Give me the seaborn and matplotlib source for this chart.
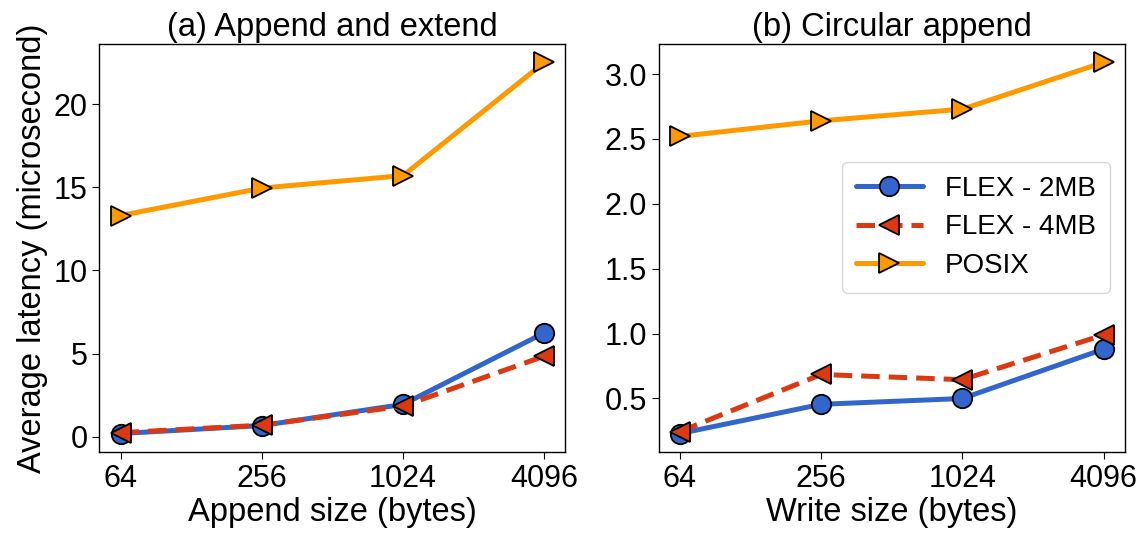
import pandas as pd
import matplotlib
matplotlib.use("Agg")
import matplotlib.pyplot as plt
import seaborn as sns

# data
sizes = ["64", "256", "1024", "4096"]
series = ["FLEX - 2MB", "FLEX - 4MB", "POSIX"]

append_flex2 = [0.2, 0.68, 1.95, 6.25]
append_flex4 = [0.25, 0.7, 1.85, 4.85]
append_posix = [13.3, 14.95, 15.7, 22.5]

circ_flex2 = [0.23, 0.455, 0.50, 0.88]
circ_flex4 = [0.245, 0.685, 0.645, 0.99]
circ_posix = [2.52, 2.64, 2.73, 3.09]

colors = {"FLEX - 2MB": "#3366CC", "FLEX - 4MB": "#DC3912", "POSIX": "#FF9900"}
markers = {"FLEX - 2MB": "o", "FLEX - 4MB": "<", "POSIX": ">"}
dashes = {"FLEX - 2MB": "", "FLEX - 4MB": (3.7, 1.8), "POSIX": ""}

sns.set_style("ticks")
plt.rcParams["font.family"] = ["Liberation Sans", "DejaVu Sans"]
plt.rcParams["font.size"] = 22
for key in ["text.color", "axes.labelcolor", "xtick.color", "ytick.color", "axes.edgecolor"]:
    plt.rcParams[key] = "black"


def make_df(v2, v4, vp):
    rows = []
    for name, vals in zip(series, [v2, v4, vp]):
        for s, v in zip(sizes, vals):
            rows.append({"size": s, "latency": v, "series": name})
    return pd.DataFrame(rows)


df_a = make_df(append_flex2, append_flex4, append_posix)
df_b = make_df(circ_flex2, circ_flex4, circ_posix)

fig, axes = plt.subplots(1, 2, figsize=(11.43, 5.35), dpi=100)

for ax, df in zip(axes, [df_a, df_b]):
    sns.lineplot(data=df, x="size", y="latency", hue="series", style="series",
                 palette=colors, markers=markers, dashes=dashes,
                 linewidth=3.6, markersize=14, markeredgecolor="black",
                 markeredgewidth=1.3, ax=ax, legend=(ax is axes[1]))
    ax.set_ylabel("")
    ax.tick_params(labelsize=22, length=5)
    for sp in ax.spines.values():
        sp.set_linewidth(1.0)

axes[0].set_title("(a) Append and extend", fontsize=23.5, pad=6)
axes[1].set_title("(b) Circular append", fontsize=23.5, pad=6)
axes[0].set_xlabel("Append size (bytes)", fontsize=23.5, labelpad=2)
axes[1].set_xlabel("Write size (bytes)", fontsize=23.5, labelpad=2)
axes[0].set_ylabel("Average latency (microsecond)", fontsize=23.5, labelpad=4)
axes[0].set_yticks([0, 5, 10, 15, 20])
axes[1].set_yticks([0.5, 1.0, 1.5, 2.0, 2.5, 3.0])
axes[1].set_yticklabels(["0.5", "1.0", "1.5", "2.0", "2.5", "3.0"])

leg = axes[1].legend(loc="upper right", fontsize=20, frameon=True,
                     handlelength=2.4, borderpad=0.5, labelspacing=0.45,
                     handletextpad=0.8, borderaxespad=0,
                     bbox_to_anchor=(0.968, 0.711))
leg.get_frame().set_edgecolor("#cccccc")

plt.subplots_adjust(left=0.087, right=0.984, top=0.918, bottom=0.155, wspace=0.2)
plt.savefig("out.png", dpi=100)
